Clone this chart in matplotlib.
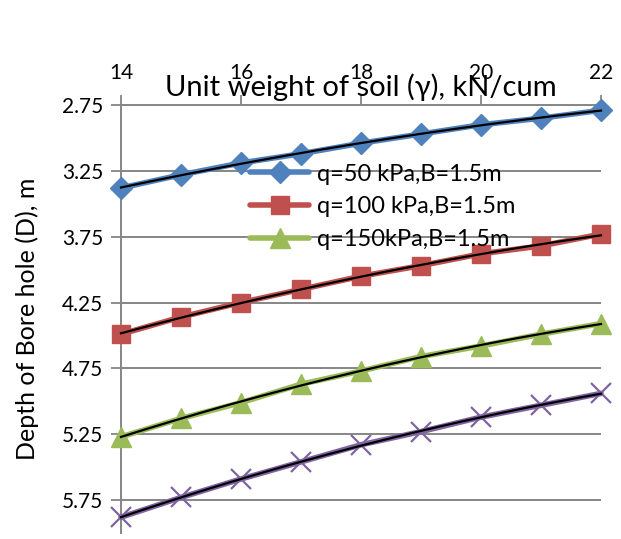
import numpy as np
import matplotlib
matplotlib.use("Agg")
import matplotlib.pyplot as plt

plt.rcParams['font.family'] = ['Lato', 'DejaVu Sans']

unit_weight = [14, 15, 16, 17, 18, 19, 20, 21, 22]
depth_q50 = [3.38, 3.28, 3.19, 3.12, 3.04, 2.97, 2.90, 2.85, 2.79]
depth_q100 = [4.49, 4.36, 4.25, 4.15, 4.05, 3.97, 3.88, 3.82, 3.73]
depth_q150 = [5.27, 5.13, 5.01, 4.87, 4.77, 4.66, 4.58, 4.49, 4.41]
depth_q200 = [5.88, 5.73, 5.59, 5.46, 5.33, 5.23, 5.12, 5.03, 4.94]

labels = ["q=50 kPa,B=1.5m", "q=100 kPa,B=1.5m", "q=150kPa,B=1.5m", None]
colors = ["#4F81BD", "#C0504D", "#9BBB59", "#8064A2"]
markers = ["D", "s", "^", "x"]
msizes = [11, 13, 14, 14]
series = [depth_q50, depth_q100, depth_q150, depth_q200]

fig = plt.figure(figsize=(6.21, 5.39), dpi=100)
ax = fig.add_axes([121/621, 1 - 533/539, 480/621, (533 - 105)/539])

grid_c = "#868686"
x = np.array(unit_weight, dtype=float)
handles = []
for ys, lab, c, m, ms in zip(series, labels, colors, markers, msizes):
    h, = ax.plot(x, ys, color=c, lw=4.0, marker=m, ms=ms, mec=c, mfc=c,
                 mew=1.6 if m == "x" else 1, zorder=3, label=lab,
                 solid_capstyle="round", clip_on=False)
    if lab is not None:
        handles.append(h)
    # polynomial trendline through each series
    coef = np.polyfit(x, ys, 2)
    xf = np.linspace(x[0], x[-1], 200)
    ax.plot(xf, np.polyval(coef, xf), color="black", lw=1.6, zorder=4,
            clip_on=False)

ax.set_xlim(14, 22)
ax.set_ylim(6.0, 2.75)
ax.set_yticks([2.75, 3.25, 3.75, 4.25, 4.75, 5.25, 5.75])
ax.set_yticklabels(["2.75", "3.25", "3.75", "4.25", "4.75", "5.25", "5.75"])
ax.set_xticks([14, 16, 18, 20, 22])
ax.xaxis.tick_top()
ax.xaxis.set_label_position("top")
ax.tick_params(axis="both", colors=grid_c, labelcolor="black", labelsize=15,
               length=7, width=1.3, direction="out")
ax.tick_params(axis="y", pad=6)
ax.tick_params(axis="x", pad=9)
ax.yaxis.grid(True, color=grid_c, lw=1.4)
ax.set_axisbelow(True)
for s in ["right", "bottom"]:
    ax.spines[s].set_visible(False)
ax.spines["left"].set_color(grid_c)
ax.spines["left"].set_linewidth(1.4)
ax.spines["top"].set_color(grid_c)
ax.spines["top"].set_linewidth(1.4)

ax.set_xlabel("Unit weight of soil (γ), kN/cum", fontsize=21, labelpad=-24)
ax.set_ylabel("Depth of Bore hole (D), m", fontsize=18, labelpad=16)

leg = ax.legend(handles=handles, loc="upper left",
                bbox_to_anchor=(0.25, 0.885), frameon=False, fontsize=17,
                handlelength=2.5, labelspacing=0.5, handletextpad=0.3,
                borderaxespad=0)

fig.savefig("out.png", dpi=100)
